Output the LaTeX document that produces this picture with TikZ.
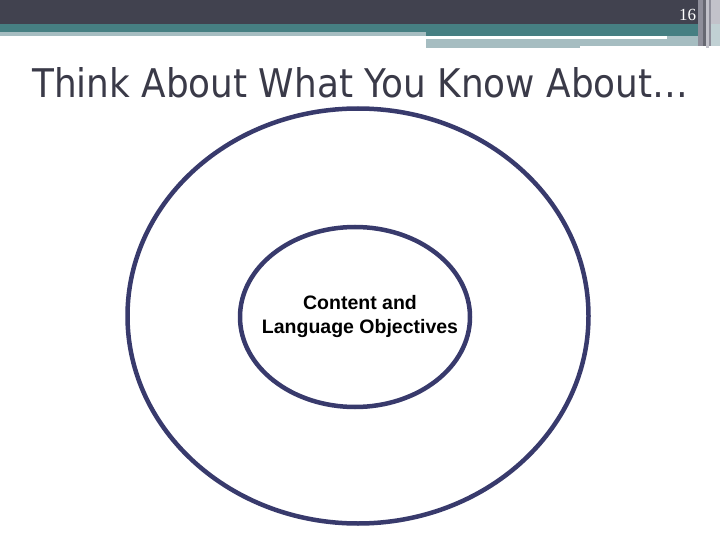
\documentclass[tikz,border=0pt]{standalone}
\usepackage{fontspec}
\setmainfont{Liberation Serif}
\newfontfamily\titlefont{DejaVu Sans}
\newfontfamily\bodyfont{Liberation Sans}
\definecolor{darkbar}{HTML}{41424F}
\definecolor{tealbar}{HTML}{467F82}
\definecolor{lightteal}{HTML}{A6BDC1}
\definecolor{ringcol}{HTML}{383A6C}
\definecolor{titlecol}{HTML}{3A3A48}
\definecolor{stripegray}{HTML}{8E8E9A}
\definecolor{stripelight}{HTML}{C2C2CA}
\tikzset{
  ring/.style={draw=ringcol, line width=4.5pt, ellipse},
  bar/.style={draw=none}
}
\usetikzlibrary{shapes.geometric}
\begin{document}
\begin{tikzpicture}[x=1pt,y=-1pt]
\useasboundingbox (0,0) rectangle (720,540);
\fill[white] (0,0) rectangle (720,540);
% top bars
\fill[darkbar] (0,0) rectangle (698,24);
\fill[tealbar] (0,24) rectangle (698,32);
\fill[lightteal] (0,32) rectangle (426,36);
\fill[tealbar] (426,32) rectangle (698,36);
\fill[lightteal] (426,39) rectangle (580,48);
\fill[lightteal] (580,39) rectangle (700,46);
\fill[lightteal] (667,36) rectangle (700,39);
% right stripes
\fill[stripegray] (698,0) rectangle (703,46);
\fill[darkbar!80] (703,0) rectangle (706,46);
\fill[stripelight] (706,0) rectangle (709,48);
\fill[stripegray] (709,0) rectangle (711,46);
\fill[stripelight] (711,0) rectangle (720,24);
\fill[lightteal!70] (711,24) rectangle (720,46);
\node[text=white, font=\fontsize{17}{17}\selectfont, inner sep=0pt] (pagenum) at (687.5,15) {16};
% title
\node[anchor=base west, inner sep=0pt, text=titlecol] (title) at (32,98)
  {\resizebox{656pt}{30pt}{\titlefont Think About What You Know About…}};
% rings
\node[ring, minimum width=461pt, minimum height=415pt, inner sep=0pt] (outer) at (358,316) {};
\node[ring, minimum width=230pt, minimum height=180pt, inner sep=0pt] (inner) at (355,317) {};
\node[align=center, font=\bodyfont\bfseries\fontsize{19.5}{24}\selectfont, inner sep=0pt] (label) at (360,316)
  {Content and\\Language Objectives};
\end{tikzpicture}
\end{document}
